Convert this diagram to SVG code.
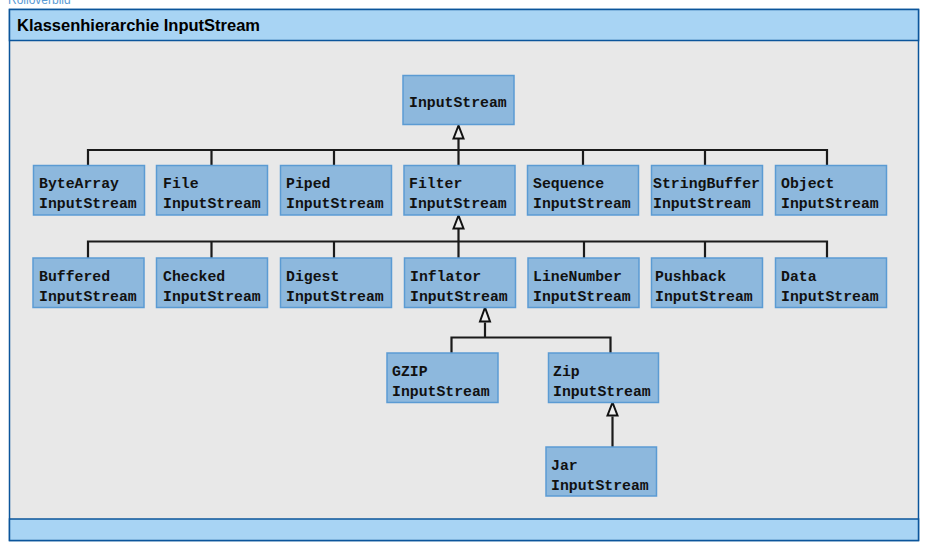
<svg xmlns="http://www.w3.org/2000/svg" width="929" height="554" viewBox="0 0 929 554">
<style>
.frame{fill:#e8e8e8;stroke:#0b559b;stroke-width:1.5}
.band{fill:#a8d4f4;stroke:#0b559b;stroke-width:1.5}
.box{fill:#8db8dd;stroke:#5b9bd3;stroke-width:1.5}
.t{font-family:"Liberation Mono","DejaVu Sans Mono",monospace;font-weight:bold;font-size:14.8px;fill:#111}
.title{font-family:"Liberation Sans",Arial,sans-serif;font-weight:bold;font-size:16.5px;fill:#000}
.cap{font-family:"Liberation Sans",Arial,sans-serif;font-size:12px;fill:#5b9bd5}
.ln{fill:none;stroke:#1a1a1a;stroke-width:2.2}
.tri{fill:#eeeeee;stroke:#111;stroke-width:2;stroke-linejoin:miter}
</style>
<rect width="929" height="554" fill="#ffffff"/>
<text class="cap" x="8" y="4">Rolloverbild</text>
<rect class="frame" x="9.5" y="9.5" width="909" height="531"/>
<rect class="band" x="9.5" y="9.5" width="909" height="31"/>
<rect class="band" x="9.5" y="519" width="909" height="21.5"/>
<text class="title" x="17" y="31">Klassenhierarchie InputStream</text>

<g id="connectors">
<path class="ln" d="M88,165 V150 H827 V165 M211.5,150 V165 M334,150 V165 M583,150 V165 M705,150 V165 M458.5,139 V165"/>
<polygon class="tri" points="458.5,125.5 453.5,138.5 463.5,138.5"/>
<path class="ln" d="M88,258 V241.5 H827 V258 M211.5,241.5 V258 M334,241.5 V258 M584,241.5 V258 M705,241.5 V258 M458.5,229 V258"/>
<polygon class="tri" points="458.5,215.5 453.5,228.5 463.5,228.5"/>
<path class="ln" d="M451.5,353 V337.5 H610.5 V353 M485,322.5 V337.5"/>
<polygon class="tri" points="485,307.5 480,321.5 490,321.5"/>
<path class="ln" d="M612.5,416.5 V447"/>
<polygon class="tri" points="612.5,402.5 607.5,415.5 617.5,415.5"/>
</g>

<g id="n-InputStream"><rect class="box" x="403" y="75.5" width="111" height="49"/><text class="t" x="409" y="106.5">InputStream</text></g>

<g id="n-ByteArray"><rect class="box" x="33.5" y="165.5" width="111" height="49.5"/><text class="t" x="39" y="187.5">ByteArray</text><text class="t" x="39" y="207.5">InputStream</text></g>
<g id="n-File"><rect class="box" x="156.5" y="165.5" width="111" height="49.5"/><text class="t" x="163" y="187.5">File</text><text class="t" x="163" y="207.5">InputStream</text></g>
<g id="n-Piped"><rect class="box" x="280.5" y="165.5" width="111" height="49.5"/><text class="t" x="286" y="187.5">Piped</text><text class="t" x="286" y="207.5">InputStream</text></g>
<g id="n-Filter"><rect class="box" x="404" y="165.5" width="111" height="49.5"/><text class="t" x="409" y="187.5">Filter</text><text class="t" x="409" y="207.5">InputStream</text></g>
<g id="n-Sequence"><rect class="box" x="527.5" y="165.5" width="111" height="49.5"/><text class="t" x="533" y="187.5">Sequence</text><text class="t" x="533" y="207.5">InputStream</text></g>
<g id="n-StringBuffer"><rect class="box" x="651.5" y="165.5" width="111" height="49.5"/><text class="t" x="653" y="187.5" textLength="107" lengthAdjust="spacingAndGlyphs">StringBuffer</text><text class="t" x="653" y="207.5">InputStream</text></g>
<g id="n-Object"><rect class="box" x="775.5" y="165.5" width="111" height="49.5"/><text class="t" x="781" y="187.5">Object</text><text class="t" x="781" y="207.5">InputStream</text></g>

<g id="n-Buffered"><rect class="box" x="33" y="258" width="111" height="49.5"/><text class="t" x="39" y="280.5">Buffered</text><text class="t" x="39" y="300.5">InputStream</text></g>
<g id="n-Checked"><rect class="box" x="156.5" y="258" width="111" height="49.5"/><text class="t" x="163" y="280.5">Checked</text><text class="t" x="163" y="300.5">InputStream</text></g>
<g id="n-Digest"><rect class="box" x="280.5" y="258" width="111" height="49.5"/><text class="t" x="286" y="280.5">Digest</text><text class="t" x="286" y="300.5">InputStream</text></g>
<g id="n-Inflator"><rect class="box" x="404.5" y="258" width="111" height="49.5"/><text class="t" x="410" y="280.5">Inflator</text><text class="t" x="410" y="300.5">InputStream</text></g>
<g id="n-LineNumber"><rect class="box" x="528" y="258" width="111" height="49.5"/><text class="t" x="533" y="280.5">LineNumber</text><text class="t" x="533" y="300.5">InputStream</text></g>
<g id="n-Pushback"><rect class="box" x="651.5" y="258" width="111" height="49.5"/><text class="t" x="655" y="280.5">Pushback</text><text class="t" x="655" y="300.5">InputStream</text></g>
<g id="n-Data"><rect class="box" x="775.5" y="258" width="111" height="49.5"/><text class="t" x="781" y="280.5">Data</text><text class="t" x="781" y="300.5">InputStream</text></g>

<g id="n-GZIP"><rect class="box" x="387" y="353" width="111" height="49.5"/><text class="t" x="392" y="375.5">GZIP</text><text class="t" x="392" y="395.5">InputStream</text></g>
<g id="n-Zip"><rect class="box" x="548.5" y="353" width="110" height="49.5"/><text class="t" x="553" y="375.5">Zip</text><text class="t" x="553" y="395.5">InputStream</text></g>
<g id="n-Jar"><rect class="box" x="546" y="447" width="110.5" height="49"/><text class="t" x="551" y="469.5">Jar</text><text class="t" x="551" y="489.5">InputStream</text></g>
</svg>
